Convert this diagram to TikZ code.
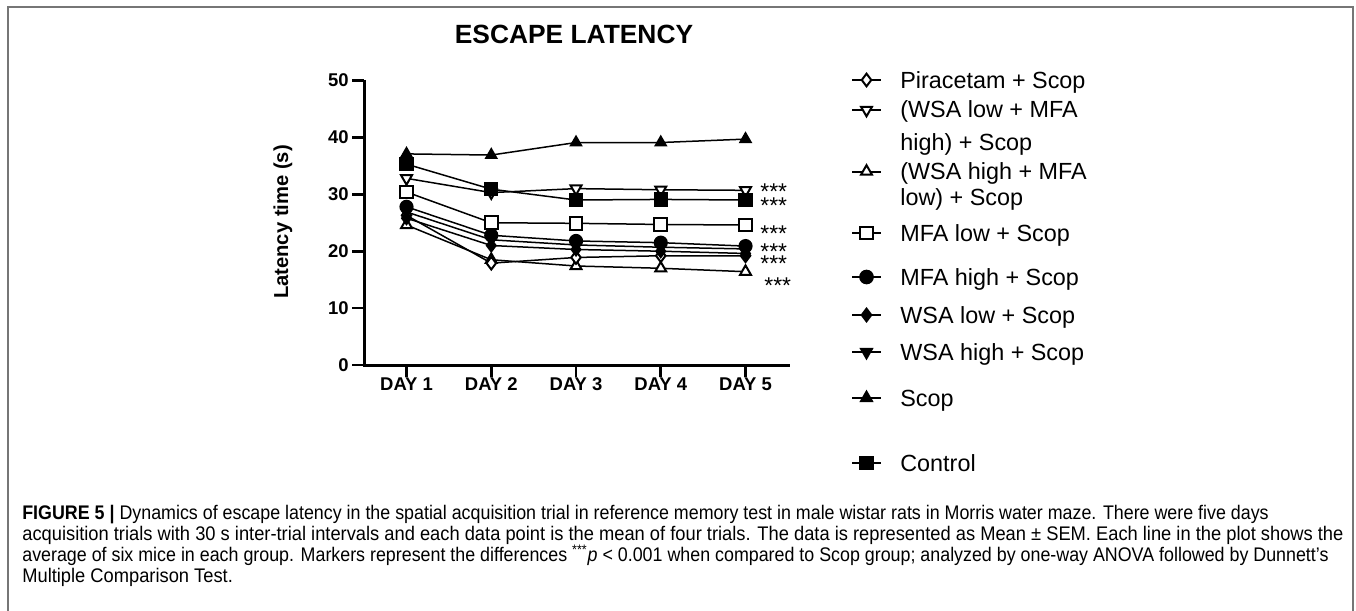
\documentclass[tikz,border=0pt]{standalone}
\usepackage{fontspec}
\setmainfont{Liberation Sans}
\newfontfamily\capfont[FakeStretch=0.93]{Liberation Sans}
\definecolor{framegray}{RGB}{118,118,118}
\usetikzlibrary{plotmarks}

\begin{document}
\begin{tikzpicture}[x=0.2mm, y=-0.2mm]
    \tikzset{series/.style={line width=0.3mm, black, mark size=3.6pt}}
    \tikzset{legline/.style={line width=0.4mm, black, mark size=3.6pt}}
    \tikzset{ticklabel/.style={font=\bfseries\fontsize{10.5}{12}\selectfont, inner sep=0pt}}
    \tikzset{legtext/.style={anchor=base west, inner sep=0pt, font=\fontsize{13.3}{16}\selectfont}}
    \tikzset{starlabel/.style={anchor=base west, inner sep=0pt, text height=0.72em, text depth=-0.42em,
      font=\fontsize{13}{15}\selectfont}}
    \tikzset{capline/.style={anchor=base west, inner sep=0pt, font=\capfont\fontsize{11.2}{14}\selectfont}}

    \useasboundingbox (0,0) rectangle (1356,610);

    % Frame round the figure
    \draw[framegray, line width=0.4mm] (8,612) -- (8,7) -- (1353,7) -- (1353,612);

    % Title
    \node[font=\bfseries\fontsize{15}{18}\selectfont] (title) at (574,34) {ESCAPE LATENCY};

    % Axes
    \draw[line width=0.6mm] (364,80) -- (364,365) -- (790,365);
    \foreach \v in {0,10,...,50}{
      \draw[line width=0.55mm] (352,{365-5.69*\v}) -- (364,{365-5.69*\v});
      \node[ticklabel, anchor=east] (ytick\v) at (349,{365-5.69*\v}) {\v};
    }
    \foreach \d in {1,...,5}{
      \draw[line width=0.55mm] ({321.75+84.75*\d},365) -- ({321.75+84.75*\d},377);
      \node[ticklabel] (day\d) at ({321.75+84.75*\d},384) {DAY \d};
    }
    \node[font=\bfseries\fontsize{11.5}{14}\selectfont, rotate=90] (ylab) at (283,222) {Latency time (s)};

    % Data, one line per group
    \begin{scope}[shift={(64.35mm,-73mm)}, x=16.95mm, y=1.138mm]
      \draw[series] plot[mark=triangle*, mark options={fill=white, line width=0.4mm}] coordinates
        {(1,24.6) (2,18.5) (3,17.4) (4,17.0) (5,16.4)};
      \draw[series] plot[mark=diamond*, mark options={fill=white, line width=0.4mm}] coordinates
        {(1,26.3) (2,17.9) (3,18.9) (4,19.2) (5,19.2)};
      \draw[series] plot[mark=diamond*] coordinates
        {(1,25.8) (2,21.0) (3,20.3) (4,20.0) (5,19.6)};
      \draw[series] plot[mark=triangle*, mark options={rotate=180}] coordinates
        {(1,26.9) (2,22.0) (3,21.1) (4,20.7) (5,20.4)};
      \draw[series] plot[mark=*] coordinates
        {(1,27.8) (2,22.8) (3,21.8) (4,21.5) (5,20.9)};
      \draw[series] plot[mark=square*, mark options={fill=white, line width=0.4mm}] coordinates
        {(1,30.4) (2,25.0) (3,24.9) (4,24.7) (5,24.6)};
      \draw[series] plot[mark=triangle*, mark options={fill=white, rotate=180, line width=0.4mm}] coordinates
        {(1,32.8) (2,30.3) (3,31.0) (4,30.8) (5,30.7)};
      \draw[series] plot[mark=square*] coordinates
        {(1,35.3) (2,30.9) (3,29.0) (4,29.1) (5,29.0)};
      \draw[series] plot[mark=triangle*] coordinates
        {(1,37.1) (2,36.9) (3,39.1) (4,39.1) (5,39.7)};
    \end{scope}

    % Significance stars at day 5
    \foreach \y/\n in {186.7/1, 200.7/2, 228.3/3, 246.7/4, 258.3/5}{
      \node[starlabel] (star\n) at (760,{\y+13.2}) {***};
    }
    \node[starlabel] (star6) at (764,293.2) {***};

    % Legend
    \foreach \y in {80,110,171.5,233,277,315,352,398,463}{
      \draw[legline] (852,\y) -- (881,\y);
    }
    \draw[legline] plot[mark=diamond*, mark options={fill=white}] coordinates {(866.5,80)};
    \draw[legline] plot[mark=triangle*, mark options={fill=white, rotate=180}] coordinates {(866.5,110)};
    \draw[legline] plot[mark=triangle*, mark options={fill=white}] coordinates {(866.5,171.5)};
    \draw[legline] plot[mark=square*, mark options={fill=white}] coordinates {(866.5,233)};
    \draw[legline] plot[mark=*] coordinates {(866.5,277)};
    \draw[legline] plot[mark=diamond*] coordinates {(866.5,315)};
    \draw[legline] plot[mark=triangle*, mark options={rotate=180}] coordinates {(866.5,352)};
    \draw[legline] plot[mark=triangle*] coordinates {(866.5,398)};
    \draw[legline] plot[mark=square*] coordinates {(866.5,463)};

    \node[legtext] (leg1) at (900,88) {Piracetam + Scop};
    \node[legtext] (leg2) at (900,118) {(WSA low + MFA};
    \node[legtext] (leg2b) at (900,150) {high) + Scop};
    \node[legtext] (leg3) at (900,179.5) {(WSA high + MFA};
    \node[legtext] (leg3b) at (900,205) {low) + Scop};
    \node[legtext] (leg4) at (900,241) {MFA low + Scop};
    \node[legtext] (leg5) at (900,285) {MFA high + Scop};
    \node[legtext] (leg6) at (900,323) {WSA low + Scop};
    \node[legtext] (leg7) at (900,360) {WSA high + Scop};
    \node[legtext] (leg8) at (900,406) {Scop};
    \node[legtext] (leg9) at (900,471) {Control};

    % Caption
    \node[capline, xscale=0.975] (cap1) at (22,519) {\textbf{FIGURE 5 |} Dynamics of escape latency in the spatial acquisition trial in reference memory test in male wistar rats in Morris water maze. There were five days};
    \node[capline] (cap2) at (22,540) {acquisition trials with 30 s inter-trial intervals and each data point is the mean of four trials. The data is represented as Mean ± SEM. Each line in the plot shows the};
    \node[capline, xscale=0.975] (cap3) at (22,561) {average of six mice in each group. Markers represent the differences \textsuperscript{***}\textit{p} < 0.001 when compared to Scop group; analyzed by one-way ANOVA followed by Dunnett’s};
    \node[capline] (cap4) at (22,582) {Multiple Comparison Test.};
  \end{tikzpicture}
\end{document}
